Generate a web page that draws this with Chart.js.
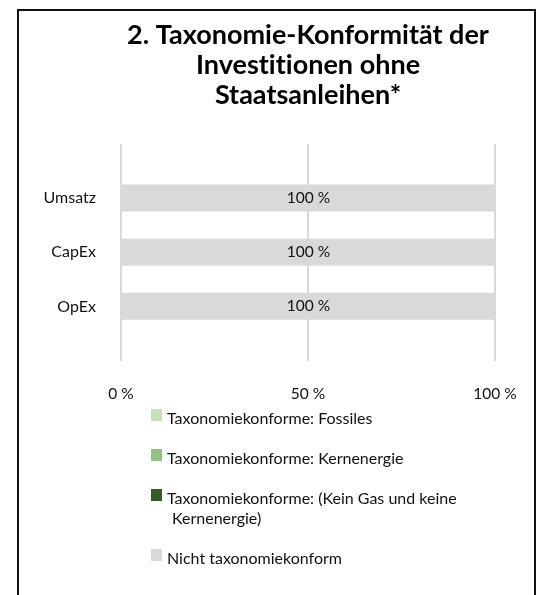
<!DOCTYPE html>
<html lang="de">
<head>
<meta charset="utf-8">
<title>Taxonomie-Konformität ohne Staatsanleihen</title>
<script src="https://cdn.jsdelivr.net/npm/chart.js@4.4.1/dist/chart.umd.min.js"></script>
<style>
  html, body { margin: 0; padding: 0; background: #fff; }
  body { width: 542px; height: 595px; position: relative; overflow: hidden; font-family: Lato, sans-serif; font-variant-ligatures: none; }
  .frame {
    position: absolute; left: 17px; top: 9px; width: 515px; height: 600px;
    border-top: 2px solid #111; border-left: 2px solid #111; border-right: 2px solid #111;
    pointer-events: none;
  }
  .chart-box { position: absolute; left: 0; top: 0; width: 542px; height: 410px; }
  #legend { position: absolute; left: 151px; top: 408px; margin: 0; padding: 0; list-style: none; }
  #legend li { display: flex; align-items: flex-start; margin-bottom: 20px; font-size: 16px; line-height: 20px; color: #111; }
  #legend .swatch { flex: none; width: 11px; height: 12px; margin-top: 1px; margin-right: 5px; }
  #legend .txt { max-width: 320px; padding-left: 5px; text-indent: -5px; }
</style>
</head>
<body>
<div class="chart-box"><canvas id="myChart"></canvas></div>
<ul id="legend"></ul>
<div class="frame"></div>

<script>
const categories = ['Umsatz', 'CapEx', 'OpEx'];
const fossiles = [0, 0, 0];
const kernenergie = [0, 0, 0];
const keinGas = [0, 0, 0];
const nichtKonform = [100, 100, 100];
const xTicks = [0, 50, 100];

const titleLines = ['2. Taxonomie-Konformität der', 'Investitionen ohne', 'Staatsanleihen*'];

Chart.defaults.font.family = 'Lato, sans-serif';
Chart.defaults.color = '#111';

// empty slot above and below the three bars, like the excel chart
const yLabels = [''].concat(categories, ['']);

function points(values) {
  return values.map((v, i) => ({ x: v, y: categories[i] }));
}

// no "ti" ligatures in the canvas text
const noLigatures = {
  id: 'noLigatures',
  beforeDraw(chart) {
    chart.ctx.textRendering = 'optimizeSpeed';
    chart.ctx.letterSpacing = '0.01px';
  },
};

// "100 %" in the middle of the grey bars
const barLabels = {
  id: 'barLabels',
  afterDatasetsDraw(chart) {
    const { ctx } = chart;
    ctx.save();
    ctx.font = '15.5px Lato, sans-serif';
    ctx.fillStyle = '#111';
    ctx.textAlign = 'center';
    ctx.textBaseline = 'middle';
    chart.data.datasets.forEach((ds, i) => {
      if (!ds.showLabel) return;
      chart.getDatasetMeta(i).data.forEach((bar, j) => {
        const v = ds.data[j].x;
        if (!v) return;
        ctx.fillText(v + ' %', (bar.x + bar.base) / 2, bar.y);
      });
    });
    ctx.restore();
  },
};

// legend below the chart, as html so the long label can wrap
const htmlLegend = {
  id: 'htmlLegend',
  afterUpdate(chart) {
    const ul = document.getElementById('legend');
    ul.innerHTML = '';
    chart.data.datasets.forEach((ds) => {
      const li = document.createElement('li');
      const box = document.createElement('span');
      box.className = 'swatch';
      box.style.background = ds.backgroundColor;
      const txt = document.createElement('span');
      txt.className = 'txt';
      txt.textContent = ds.label;
      li.appendChild(box);
      li.appendChild(txt);
      ul.appendChild(li);
    });
  },
};

const ctx = document.querySelector('#myChart');
// eslint-disable-next-line no-unused-vars
const barChart = new Chart(ctx, {
  type: 'bar',
  data: {
    labels: yLabels,
    datasets: [{
      label: 'Taxonomiekonforme: Fossiles',
      data: points(fossiles),
      backgroundColor: '#c5dfbf',
    }, {
      label: 'Taxonomiekonforme: Kernenergie',
      data: points(kernenergie),
      backgroundColor: '#92bf82',
    }, {
      label: 'Taxonomiekonforme: (Kein Gas und keine Kernenergie)',
      data: points(keinGas),
      backgroundColor: '#385a27',
    }, {
      label: 'Nicht taxonomiekonform',
      data: points(nichtKonform),
      backgroundColor: '#d9d9d9',
      showLabel: true,
    }],
  },
  options: {
    indexAxis: 'y',
    responsive: true,
    maintainAspectRatio: false,
    animation: false,
    barThickness: 27,
    inflateAmount: 0,
    layout: { padding: { left: 20, right: 47, top: 0, bottom: 0 } },
    plugins: {
      legend: { display: false },
      tooltip: { enabled: false },
      title: {
        display: true,
        fullSize: false,
        text: titleLines,
        color: '#000',
        font: { size: 27, weight: 'bold', lineHeight: 1.11 },
        padding: { top: 20, bottom: 34 },
      },
    },
    scales: {
      x: {
        type: 'linear',
        stacked: true,
        min: xTicks[0],
        max: xTicks[xTicks.length - 1],
        afterBuildTicks: (scale) => { scale.ticks = xTicks.map((v) => ({ value: v })); },
        afterFit: (scale) => { scale.height = 49.5; },
        grid: { color: '#d9d9d9', lineWidth: 2, drawTicks: false },
        border: { display: false },
        ticks: {
          padding: 24,
          font: { size: 15.5 },
          callback: (v) => v + ' %',
        },
      },
      y: {
        type: 'category',
        stacked: true,
        offset: false,
        afterFit: (scale) => { scale.width = 101; },
        grid: { display: false, drawTicks: false, offset: false },
        border: { display: false },
        ticks: {
          padding: 25,
          autoSkip: false,
          font: { size: 16 },
        },
      },
    },
  },
  plugins: [noLigatures, barLabels, htmlLegend],
});
</script>
</body>
</html>
